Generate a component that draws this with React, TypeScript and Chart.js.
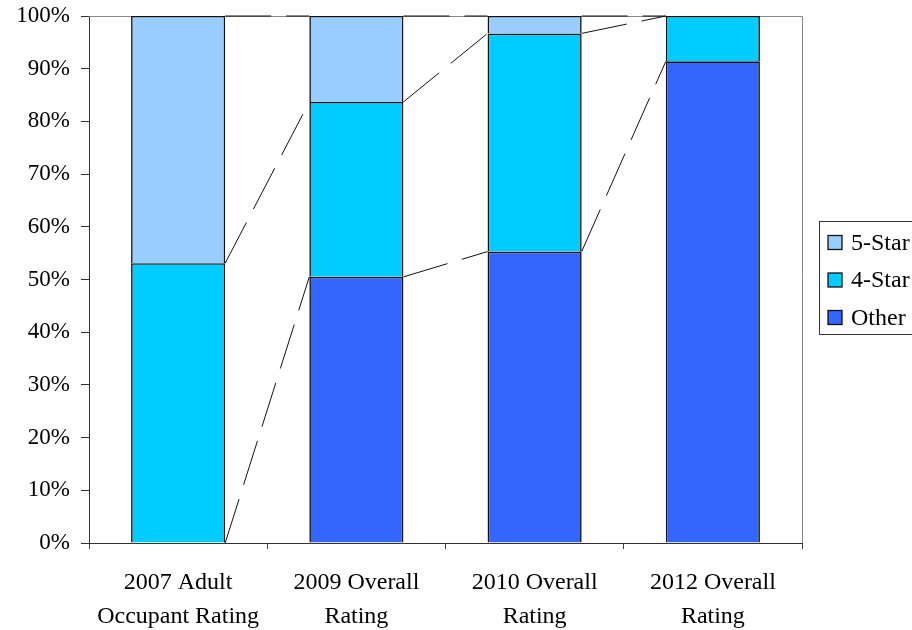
import React, { useEffect, useRef } from "react";
import { Chart, registerables } from "chart.js";

Chart.register(...registerables);

const categories: string[][] = [
  ["2007 Adult", "Occupant Rating"],
  ["2009 Overall", "Rating"],
  ["2010 Overall", "Rating"],
  ["2012 Overall", "Rating"],
];
const otherValues = [0, 50.5, 55.3, 91.4];
const fourStarValues = [53.1, 33.2, 41.4, 8.6];
const fiveStarValues = [46.9, 16.3, 3.3, 0];
const yTicks = [0, 10, 20, 30, 40, 50, 60, 70, 80, 90, 100];

const FONT = "'Liberation Serif', 'Times New Roman', serif";
const COLORS = { other: "#3366FF", four: "#00CCFF", five: "#99CCFF" };

const seriesLines = {
  id: "seriesLines",
  afterDatasetsDraw(chart: any) {
    const ctx = chart.ctx;
    ctx.save();
    ctx.strokeStyle = "#111";
    ctx.lineWidth = 1;
    ctx.setLineDash([46, 15]);
    chart.data.datasets.forEach((_: any, d: number) => {
      const meta = chart.getDatasetMeta(d);
      for (let i = 0; i < meta.data.length - 1; i++) {
        const a = meta.data[i];
        const b = meta.data[i + 1];
        ctx.beginPath();
        ctx.moveTo(a.x + a.width / 2, a.y);
        ctx.lineTo(b.x - b.width / 2, b.y);
        ctx.stroke();
      }
    });
    ctx.restore();
  },
};

const plotBorder = {
  id: "plotBorder",
  beforeDatasetsDraw(chart: any) {
    const { ctx, chartArea } = chart;
    ctx.save();
    ctx.strokeStyle = "#888";
    ctx.lineWidth = 1;
    ctx.beginPath();
    ctx.moveTo(chartArea.left, chartArea.top + 0.5);
    ctx.lineTo(chartArea.right + 0.5, chartArea.top + 0.5);
    ctx.lineTo(chartArea.right + 0.5, chartArea.bottom);
    ctx.stroke();
    ctx.restore();
  },
};

const boxLegend = {
  id: "boxLegend",
  afterDraw(chart: any) {
    const ctx = chart.ctx;
    const left = chart.chartArea.right + 17;
    const top = 221;
    const rowH = 37.5;
    ctx.save();
    ctx.strokeStyle = "#333";
    ctx.lineWidth = 1;
    ctx.strokeRect(left + 0.5, top + 0.5, 120, 113);
    const items = [...chart.data.datasets].reverse();
    ctx.font = `24px ${FONT}`;
    ctx.textBaseline = "middle";
    ctx.fillStyle = "#000";
    items.forEach((ds: any, i: number) => {
      const cy = top + 21.5 + i * rowH;
      ctx.fillStyle = ds.backgroundColor;
      ctx.fillRect(left + 9, cy - 7, 14, 14);
      ctx.strokeStyle = "#111";
      ctx.lineWidth = 1.3;
      ctx.strokeRect(left + 9, cy - 7, 14, 14);
      ctx.fillStyle = "#000";
      ctx.fillText(ds.label, left + 32, cy + 1);
    });
    ctx.restore();
  },
};

export default function App() {
  const ref = useRef<HTMLCanvasElement | null>(null);
  useEffect(() => {
    if (!ref.current) return;
    const chart = new Chart(ref.current, {
      type: "bar",
      data: {
        labels: categories,
        datasets: [
          { label: "Other", data: otherValues, backgroundColor: COLORS.other },
          { label: "4-Star", data: fourStarValues, backgroundColor: COLORS.four },
          { label: "5-Star", data: fiveStarValues, backgroundColor: COLORS.five },
        ].map((d) => ({
          ...d,
          borderColor: "#111",
          borderWidth: 1.6,
          borderSkipped: "start",
          barPercentage: 0.528,
          categoryPercentage: 1,
        })),
      },
      options: {
        responsive: false,
        animation: false,
        devicePixelRatio: 1,
        layout: { padding: { top: 16, right: 110, left: 0, bottom: 0 } },
        plugins: { legend: { display: false }, tooltip: { enabled: false } },
        scales: {
          x: {
            stacked: true,
            afterFit: (s: any) => {
              s.height = 87;
            },
            grid: {
              offset: true,
              drawOnChartArea: false,
              drawTicks: true,
              tickLength: 6,
              color: "#444",
            },
            border: { color: "#333", width: 1 },
            ticks: {
              color: "#000",
              font: { family: FONT, size: 24, lineHeight: 1.4 },
              padding: 17,
              maxRotation: 0,
              autoSkip: false,
            },
          },
          y: {
            stacked: true,
            min: 0,
            max: 100,
            afterFit: (s: any) => {
              s.width = 89;
              s.paddingTop = 0;
              s.paddingBottom = 0;
            },
            afterBuildTicks: (s: any) => {
              s.ticks = yTicks.map((v) => ({ value: v }));
            },
            grid: {
              drawOnChartArea: false,
              drawTicks: true,
              tickLength: 8,
              color: "#333",
            },
            border: { color: "#333", width: 1 },
            ticks: {
              color: "#000",
              font: { family: FONT, size: 23 },
              padding: 11,
              callback: (v: any) => `${v}%`,
            },
          },
        },
      },
      plugins: [plotBorder, seriesLines, boxLegend],
    });
    return () => chart.destroy();
  }, []);
  return (
    <div style={{ position: "absolute", left: 0, top: 0, width: 912, height: 630, background: "#fff" }}>
      <canvas ref={ref} width={912} height={630} style={{ width: 912, height: 630, display: "block" }} />
    </div>
  );
}
